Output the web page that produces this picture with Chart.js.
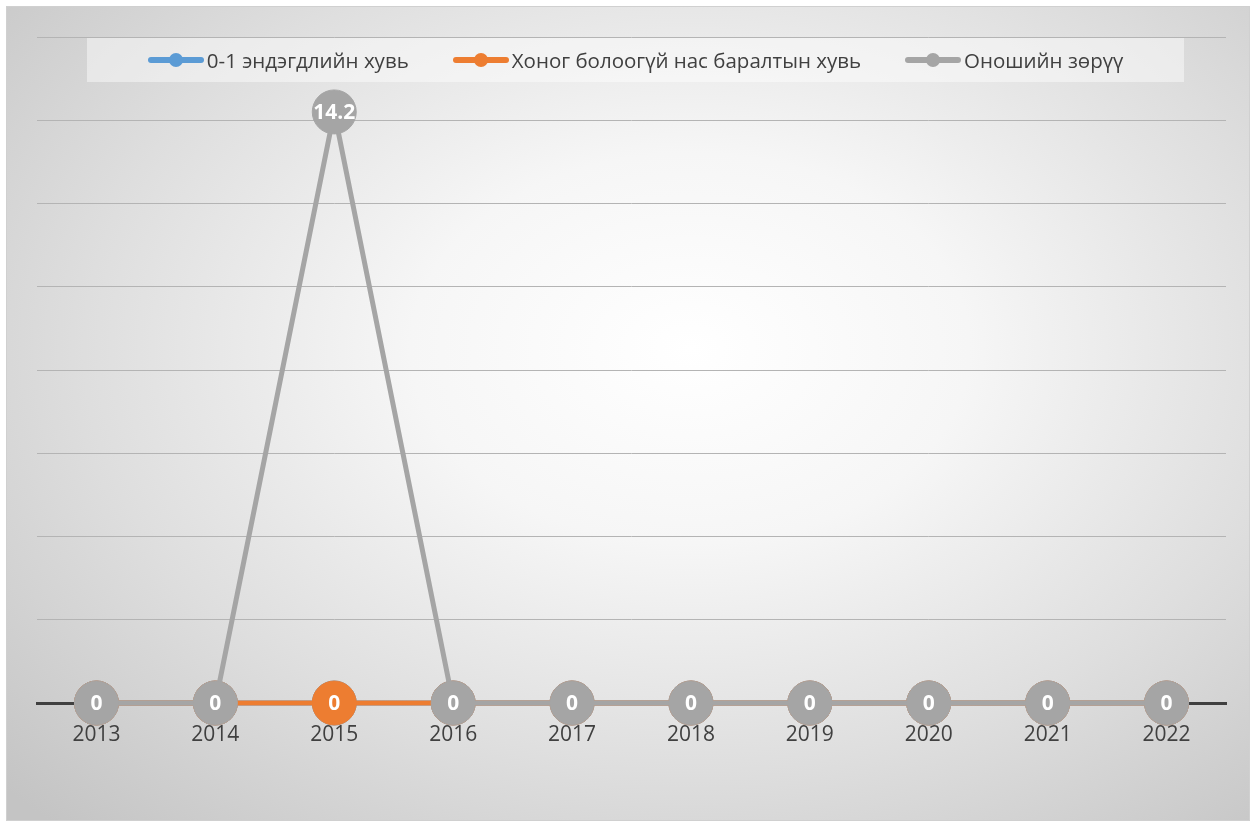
<!DOCTYPE html>
<html>
<head>
<meta charset="utf-8">
<script src="https://cdn.jsdelivr.net/npm/chart.js@4.4.0/dist/chart.umd.min.js"></script>
<style>
  body { margin: 0; background: #fff; }
  #frame {
    position: absolute; left: 6px; top: 6px; width: 1244px; height: 815px;
    box-sizing: border-box; border: 1px solid #d0d0d0;
    background: radial-gradient(ellipse 75% 80% at 55% 42%, #ffffff 0%, #f6f6f6 30%, #dedede 65%, #c4c4c4 100%);
  }
  #legend {
    position: absolute; left: 80px; top: 31px; width: 1097px; height: 44px;
    background: rgba(255,255,255,0.45);
    display: flex; justify-content: center; align-items: center; gap: 44px;
    font-family: "Open Sans", sans-serif; font-size: 20.5px; color: #404040;
  }
  .item { display: flex; align-items: center; }
  .icon { position: relative; width: 56px; height: 14px; margin-right: 3px; }
  .icon .ln { position: absolute; left: 0; right: 0; top: 4px; height: 6px; border-radius: 3px; }
  .icon .dt { position: absolute; left: 21px; top: 0; width: 14px; height: 14px; border-radius: 7px; }
  canvas { position: absolute; left: 0; top: 0; }
</style>
</head>
<body>
<div id="frame">
  <canvas id="chart" width="1242" height="813"></canvas>
  <div id="legend"></div>
</div>
<script>
const years = ["2013", "2014", "2015", "2016", "2017", "2018", "2019", "2020", "2021", "2022"];
const infantRate = [0, 0, 0, 0, 0, 0, 0, 0, 0, 0];
const neonatalRate = [0, 0, 0, 0, 0, 0, 0, 0, 0, 0];
const diagnosisGap = [0, 0, 14.2, 0, 0, 0, 0, 0, 0, 0];
const seriesNames = ["0-1 эндэгдлийн хувь", "Хоног болоогүй нас баралтын хувь", "Оношийн зөрүү"];
const seriesColors = ["#5b9bd5", "#ed7d31", "#a5a5a5"];

// legend in html
const legendBox = document.getElementById("legend");
seriesNames.forEach((name, i) => {
    const item = document.createElement("div");
    item.className = "item";
    item.innerHTML = '<div class="icon"><div class="ln" style="background:' + seriesColors[i] + '"></div>' +
        '<div class="dt" style="background:' + seriesColors[i] + '"></div></div><span>' + name + '</span>';
    legendBox.appendChild(item);
});

// white value labels on top of the markers, skipped where a later series covers the point
const valueLabels = {
    id: "valueLabels",
    afterDatasetsDraw(chart) {
        const ctx = chart.ctx;
        const sets = chart.data.datasets;
        ctx.save();
        ctx.fillStyle = "#ffffff";
        ctx.font = "bold 21px 'Open Sans', sans-serif";
        ctx.textAlign = "center";
        ctx.textBaseline = "middle";
        sets.forEach((ds, i) => {
            const meta = chart.getDatasetMeta(i);
            ds.data.forEach((v, j) => {
                for (let k = i + 1; k < sets.length; k++) {
                    if (sets[k].data[j] === v) return;
                }
                const pt = meta.data[j];
                ctx.fillText(String(v), pt.x, pt.y + 1);
            });
        });
        ctx.restore();
    }
};

function makeSet(label, data, color, order) {
    return {
        label: label,
        data: data,
        borderColor: color,
        backgroundColor: color,
        pointBackgroundColor: color,
        pointBorderColor: color,
        borderWidth: 5,
        pointRadius: 22,
        pointBorderWidth: 1,
        tension: 0,
        clip: false,
        order: order
    };
}

new Chart(document.getElementById("chart"), {
    type: "line",
    data: {
        labels: years,
        datasets: [
            makeSet(seriesNames[0], infantRate, seriesColors[0], 3),
            makeSet(seriesNames[1], neonatalRate, seriesColors[1], 2),
            makeSet(seriesNames[2], diagnosisGap, seriesColors[2], 1)
        ]
    },
    plugins: [valueLabels],
    options: {
        responsive: false,
        animation: false,
        events: [],
        layout: { padding: { left: 30, right: 19, top: 30, bottom: 0 } },
        plugins: { legend: { display: false }, tooltip: { enabled: false } },
        scales: {
            x: {
                offset: true,
                grid: { display: false, drawTicks: false },
                border: { display: true, color: "#404040", width: 3 },
                ticks: { color: "#404040", font: { family: "'Open Sans', sans-serif", size: 21 }, padding: 19 },
                afterFit: (s) => { s.height = 117; }
            },
            y: {
                min: 0,
                max: 16,
                ticks: { display: false, stepSize: 2 },
                border: { display: false },
                grid: {
                    drawTicks: false,
                    color: (c) => c.tick && c.tick.value === 0 ? "rgba(0,0,0,0)" : "#b4b4b4",
                    lineWidth: 1
                },
                afterFit: (s) => { s.width = 0; }
            }
        }
    }
});
</script>
</body>
</html>
